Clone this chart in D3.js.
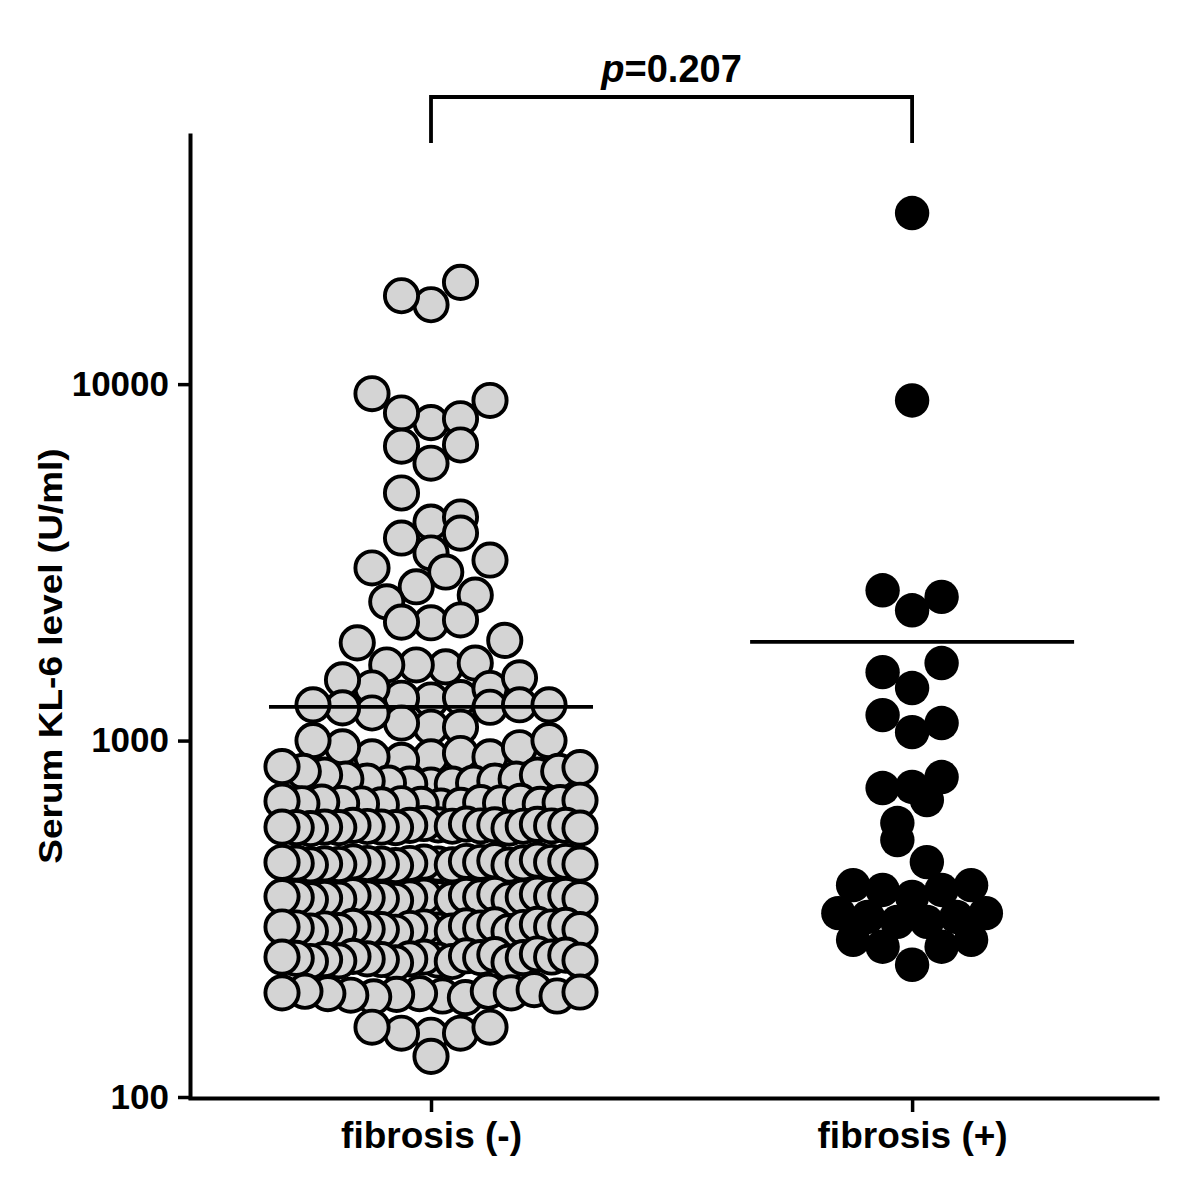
<!DOCTYPE html>
<html>
<head>
<meta charset="utf-8">
<script src="https://cdn.jsdelivr.net/npm/d3@7"></script>
<style>
body { margin: 0; background: #fff; }
</style>
</head>
<body>
<svg width="1200" height="1200"></svg>
<script>
var categories = ["fibrosis (-)", "fibrosis (+)"];
var yTicks = [100, 1000, 10000];
var pValue = "0.207";

// each row is listed center-out (center, right, left, right, left ...)
var negRows = [
  [16700, 19300, 17700],
  [7800, 8000, 8300, 9000, 9400],
  [6000, 6750, 6700],
  [4100, 4240, 4950],
  [3360, 3820, 3700, 3210, 3050],
  [2970, 2700, 2560, 2450],
  [2140, 2180, 2150],
  [1610, 1630, 1650, 1630, 1910, 1880],
  [1300, 1320, 1315, 1400, 1405, 1500, 1480],
  [1090, 1090, 1120, 1240, 1195, 1260, 1235, 1260, 1260],
  [900, 920, 880, 900, 900, 955, 960, 1000, 1000],
  [750, 755, 755, 760, 760, 770, 770, 780, 780, 800, 800, 820, 820, 840, 845],
  [655, 662, 658, 665, 670, 660, 668, 664, 675, 666, 662, 672, 670, 665, 680, 676],
  [580, 585, 575, 578, 583, 570, 576, 572, 580, 574, 568, 578, 575, 570, 582, 572, 576, 566, 578, 570, 568, 572],
  [450, 456, 448, 452, 458, 446, 455, 450, 460, 452, 447, 457, 454, 449, 462, 451, 455, 448, 458, 453, 450, 455],
  [360, 366, 358, 362, 368, 356, 364, 360, 370, 362, 357, 367, 364, 359, 371, 361, 365, 358, 368, 363, 360, 365],
  [294, 300, 292, 297, 302, 290, 298, 295, 304, 296, 291, 301, 299, 293, 305, 296, 300, 292, 303, 298, 295, 300],
  [242, 247, 240, 244, 249, 238, 246, 243, 251, 244, 239, 248, 246, 241, 252, 243, 247, 240, 250, 245, 242, 247],
  [192, 195, 190, 194, 198, 191, 196, 193, 200, 195, 192, 198, 197, 196],
  [149, 151, 151, 157, 157],
  [130]
];

var posRows = [
  [30200],
  [9000],
  [2320, 2530, 2640],
  [1404, 1650, 1556],
  [1056, 1120, 1179],
  [741, 790, 736],
  [681, 587],
  [456, 526],
  [364, 381, 381, 393, 393],
  [310, 310, 320, 320, 328, 328],
  [235, 264, 264, 276, 276]
];

var font = "'Liberation Sans', Arial, Helvetica, sans-serif";
var svg = d3.select("svg");

var x = d3.scalePoint().domain(categories).range([190, 1157]).padding(0.505).align(0.496);
var y = d3.scaleLog().domain([100, 50000]).range([1097, 135]);

var maxStep = 29.5, halfWidth = 149;

function layout(rows, cat) {
  var pts = [];
  rows.forEach(function(row) {
    var n = row.length;
    var step = n > 1 ? Math.min(maxStep, 2 * halfWidth / (n - 1)) : 0;
    row.forEach(function(v, i) {
      var off;
      if (n % 2) off = (i % 2 ? 1 : -1) * Math.ceil(i / 2) * step;
      else off = (i % 2 ? -1 : 1) * (Math.floor(i / 2) + 0.5) * step;
      pts.push({v: v, cx: x(cat) + off, cy: y(v)});
    });
  });
  return pts;
}

var negPts = layout(negRows, categories[0]);
var posPts = layout(posRows, categories[1]);

// points
svg.append("g").selectAll("circle").data(negPts).enter().append("circle")
  .attr("cx", function(d){ return d.cx; })
  .attr("cy", function(d){ return d.cy; })
  .attr("r", 16.6)
  .attr("fill", "#d4d4d4")
  .attr("stroke", "#000")
  .attr("stroke-width", 3.9);

svg.append("g").selectAll("circle").data(posPts).enter().append("circle")
  .attr("cx", function(d){ return d.cx; })
  .attr("cy", function(d){ return d.cy; })
  .attr("r", 17.2)
  .attr("fill", "#000");

// mean lines
var means = [d3.mean(negPts, function(d){ return d.v; }), d3.mean(posPts, function(d){ return d.v; })];
svg.append("g").selectAll("line").data(categories).enter().append("line")
  .attr("x1", function(d){ return x(d) - 162; })
  .attr("x2", function(d){ return x(d) + 162; })
  .attr("y1", function(d, i){ return y(means[i]); })
  .attr("y2", function(d, i){ return y(means[i]); })
  .attr("stroke", "#000")
  .attr("stroke-width", 3.8);

// axes
var yAxis = svg.append("g")
  .attr("transform", "translate(190,0)")
  .call(d3.axisLeft(y).tickValues(yTicks).tickFormat(d3.format("d")).tickSize(12).tickSizeOuter(0).tickPadding(9));
var xAxis = svg.append("g")
  .attr("transform", "translate(0,1098)")
  .call(d3.axisBottom(x).tickSize(14).tickSizeOuter(0));

[yAxis, xAxis].forEach(function(a) {
  a.attr("font-family", font).attr("font-weight", "bold");
  a.select(".domain").attr("stroke-width", 4).attr("stroke-linecap", "square");
  a.selectAll(".tick line").attr("stroke-width", 3.5);
  a.selectAll("text").attr("fill", "#000");
});
yAxis.attr("font-size", 35);
xAxis.attr("font-size", 37);
xAxis.selectAll("text").attr("y", 50).attr("dy", 0);

// y title
svg.append("text")
  .attr("transform", "translate(62,656) scale(0.92,1) rotate(-90)")
  .attr("text-anchor", "middle")
  .attr("font-family", font)
  .attr("font-weight", "bold")
  .attr("font-size", 37)
  .text("Serum KL-6 level (U/ml)");

// significance bracket
var bx0 = x(categories[0]), bx1 = x(categories[1]);
svg.append("path")
  .attr("d", "M" + bx0 + ",143V97H" + bx1 + "V143")
  .attr("fill", "none")
  .attr("stroke", "#000")
  .attr("stroke-width", 3.8);

var pt = svg.append("text")
  .attr("x", (bx0 + bx1) / 2)
  .attr("y", 82)
  .attr("text-anchor", "middle")
  .attr("font-family", font)
  .attr("font-weight", "bold")
  .attr("font-size", 38);
pt.append("tspan").attr("font-style", "italic").text("p");
pt.append("tspan").text("=" + pValue);
</script>
</body>
</html>
